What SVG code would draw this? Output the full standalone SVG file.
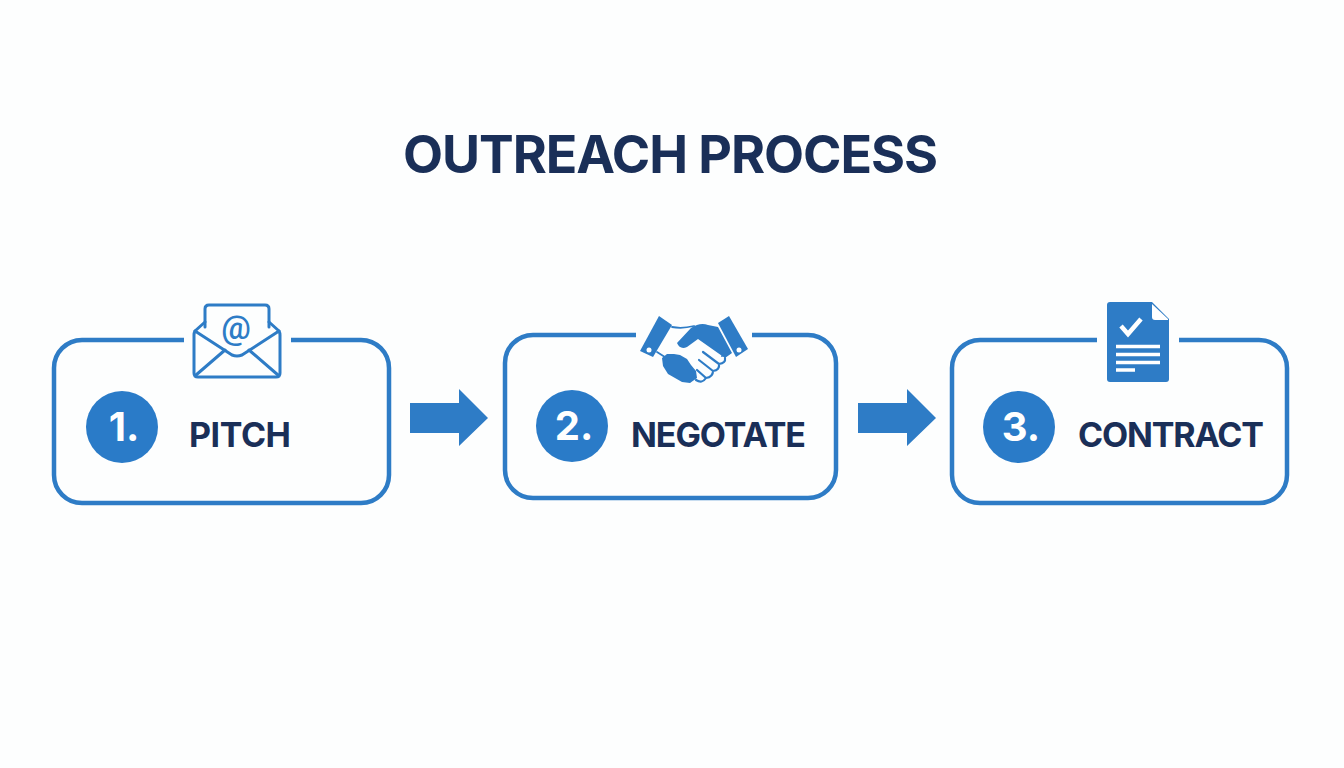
<svg xmlns="http://www.w3.org/2000/svg" width="1344" height="768" viewBox="0 0 1344 768">
<style>
.frame{fill:none;stroke:#2e7cc6;stroke-width:4.5;stroke-linecap:butt}
.disc{fill:#2a7bc8}
.num{font:700 40px Inter,Roboto,"Liberation Sans",sans-serif;fill:#fff;text-anchor:middle}
.lbl{font:700 34px Inter,Roboto,"Liberation Sans",sans-serif;fill:#1a2f58}
.ln{fill:none;stroke:#2e7cc6;stroke-width:3;stroke-linejoin:round;stroke-linecap:round}
.fill{fill:#2e7cc6}
.w{fill:#fff}
</style>
<rect width="1344" height="768" fill="#fdfefe"/>
<text id="title" x="403" y="173" textLength="535" lengthAdjust="spacing" style="font:700 52px Inter,Roboto,'Liberation Sans',sans-serif;fill:#1a2f58">OUTREACH PROCESS</text>
<g id="connectors">
<path class="fill" d="M410 403H459V389L488 418L459 446V433H410Z"/>
<path class="fill" d="M858 403H907V389L936 418L907 446V433H858Z"/>
</g>
<g id="node1">
<path class="frame" d="M184 340H82A28 28 0 0 0 54 368V475A28 28 0 0 0 82 503H361A28 28 0 0 0 389 475V368A28 28 0 0 0 361 340H291"/>
<circle class="disc" cx="122" cy="427" r="36"/>
<text class="num" x="124" y="441">1.</text>
<text class="lbl" x="189" y="447" textLength="102" lengthAdjust="spacing">PITCH</text>
<g id="icon-mail">
<path class="ln" d="M205 327V309Q205 305 209 305H265Q269 305 269 309V327"/>
<path class="ln" d="M205 322L195 331Q194 333 194 335V373Q194 377 198 377H276Q280 377 280 373V335Q280 333 279 331L269 322"/>
<path class="ln" d="M195 331L232 355Q237 357 242 355L279 331"/>
<path class="ln" d="M196 375L225 350M278 375L249 350"/>
<text x="236" y="339" text-anchor="middle" style="font:500 33px Roboto,'Liberation Sans',sans-serif;fill:#2e7cc6">@</text>
</g>
</g>
<g id="node2">
<path class="frame" d="M636 335H533A28 28 0 0 0 505 363V470A28 28 0 0 0 533 498H808A28 28 0 0 0 836 470V363A28 28 0 0 0 808 335H752"/>
<circle class="disc" cx="572" cy="426" r="36"/>
<text class="num" x="574" y="440">2.</text>
<text class="lbl" x="631" y="447" textLength="175" lengthAdjust="spacing">NEGOTATE</text>
<g id="icon-handshake">
<path class="fill" d="M659 316L672 325L653 357L640 351Z"/>
<path class="fill" d="M718 323L729 316L748 349L736 357Z"/>
<circle class="w" cx="649" cy="350" r="2.500"/>
<circle class="w" cx="739" cy="350" r="2.500"/>
<path class="ln" style="stroke-width:1.800" d="M672 327Q682 329 694 326M657 352L668 359M730 352L722 356"/>
<path class="fill" d="M662 358L667 354L674 354L680 355L687 359L691 365L696 371L697 378L690 383L682 382L675 378L668 374L663 366Z"/>
<path class="fill" d="M677 343L691 328Q700 322 708 325L718 327L732 353L725 358L698 339L687 347Q680 350 677 343Z"/>
<path class="ln" style="stroke-width:2.200" d="M725 358Q726 363 719 364L703 352M719 364Q720 370 713 371L699 360M713 371Q713 377 706 378L697 370M706 378Q702 384 696 380"/>
</g>
</g>
<g id="node3">
<path class="frame" d="M1097 340H980A28 28 0 0 0 952 368V475A28 28 0 0 0 980 503H1259A28 28 0 0 0 1287 475V368A28 28 0 0 0 1259 340H1179"/>
<circle class="disc" cx="1019" cy="427" r="36"/>
<text class="num" x="1021" y="441">3.</text>
<text class="lbl" x="1078" y="447" textLength="186" lengthAdjust="spacing">CONTRACT</text>
<g id="icon-doc">
<path class="fill" d="M1110 302H1152L1169 319V379Q1169 382 1166 382H1110Q1107 382 1107 379V305Q1107 302 1110 302Z"/>
<path class="w" d="M1152 304L1168 319V320H1155Q1152 320 1152 317Z"/>
<path d="M1121 326L1128 334L1141 319" fill="none" stroke="#fff" stroke-width="4.500"/>
<path d="M1116 346.500H1160M1116 354.500H1160M1116 362.500H1160M1116 370H1135" fill="none" stroke="#fff" stroke-width="3.600"/>
</g>
</g>
</svg>
